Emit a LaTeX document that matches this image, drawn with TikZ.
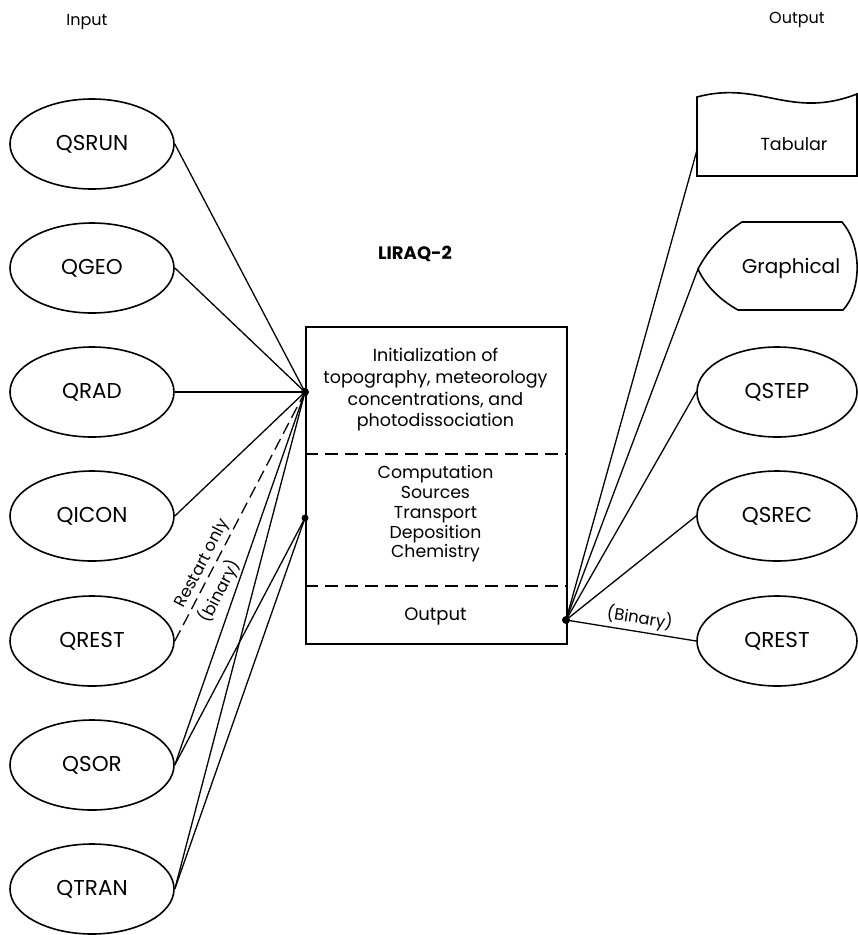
\documentclass[tikz,border=0pt]{standalone}
\usepackage{fontspec}
\setmainfont{Poppins}
\usetikzlibrary{shapes.geometric}
\begin{document}
\begin{tikzpicture}[x=1pt,y=-1pt,line width=1.6pt,
  ell/.style={draw,ellipse,minimum width=164pt,minimum height=90pt,inner sep=0pt,font=\fontsize{21.5}{24}\selectfont},
  rell/.style={ell,minimum width=160pt},
  conn/.style={line width=1.3pt},
  dsh/.style={dash pattern=on 13pt off 7pt},
  lbl/.style={font=\fontsize{16}{19}\selectfont},
  boxtxt/.style={align=center,inner sep=0pt}
]
\useasboundingbox (0,0) rectangle (858,935);

% headers
\node[lbl] (inp) at (87,22) {Input};
\node[lbl] (outp) at (797,20) {Output};
\node[font=\fontsize{18}{21}\selectfont\bfseries] (title) at (415,254) {LIRAQ-2};

% input ellipses
\node[ell] (qsrun) at (92,144) {QSRUN};
\node[ell] (qgeo)  at (92,268) {QGEO};
\node[ell] (qrad)  at (92,392) {QRAD};
\node[ell] (qicon) at (92,516) {QICON};
\node[ell] (qrestl) at (92,641) {QREST};
\node[ell] (qsor)  at (92,765) {QSOR};
\node[ell] (qtran) at (92,889) {QTRAN};

% central box
\node[draw,minimum width=261pt,minimum height=317pt,inner sep=0pt,anchor=north west] (box) at (305,326) {};
\draw[dsh] (box.west |- 0,454) -- (box.east |- 0,454);
\draw[dsh] (box.west |- 0,586) -- (box.east |- 0,586);
\node[boxtxt,font=\fontsize{17.5}{21.7}\selectfont] (init) at (435.5,390) {Initialization of\\topography, meteorology\\concentrations, and\\photodissociation};
\node[boxtxt,font=\fontsize{17.3}{19.8}\selectfont] (comp) at (435.5,514) {Computation\\Sources\\Transport\\Deposition\\Chemistry};
\node[boxtxt,font=\fontsize{18}{20}\selectfont] (outb) at (435.5,616) {Output};

% output shapes
\draw (697,176) -- (697,97) .. controls (760,80) and (790,120) .. (857,94) -- (857,176) -- cycle;
\node[font=\fontsize{17.5}{20}\selectfont] (tab) at (794,144) {Tabular};
\coordinate (tabL) at (697,150);
\draw (742,222) -- (842,222) .. controls (862,245) and (862,290) .. (843,310) -- (738,310)
  .. controls (720,300) and (705,285) .. (698,269) .. controls (708,250) and (722,235) .. (742,222) -- cycle;
\node[font=\fontsize{20}{22}\selectfont] (graph) at (791,268) {Graphical};
\coordinate (grL) at (698,269);
\node[rell] (qstep) at (777,392) {QSTEP};
\node[rell] (qsrec) at (777,516) {QSREC};
\node[rell] (qrestr) at (777,641) {QREST};

% junction dots
\coordinate (d1) at (305,392);
\coordinate (d2) at (305,518);
\coordinate (d3) at (566,620);
\fill (d1) circle (4pt);
\fill (d2) circle (3.5pt);
\fill (d3) circle (4pt);

% input connectors
\draw[conn] (qsrun.east) -- (d1);
\draw[conn] (qgeo.east) -- (d1);
\draw[conn] (qrad.east) -- (d1);
\draw[conn] (qicon.east) -- (d1);
\draw[conn,dash pattern=on 12pt off 6pt] (qrestl.east) -- (d1)
  node[pos=0.29,sloped,above,font=\fontsize{16.5}{18}\selectfont,inner sep=2pt] {Restart only}
  node[pos=0.23,sloped,below,font=\fontsize{16.5}{18}\selectfont,inner sep=6pt] {(binary)};
\draw[conn] (qsor.east) -- (d1);
\draw[conn] (qsor.east) -- (d2);
\draw[conn] (qtran.east) -- (d1);
\draw[conn] (qtran.east) -- (d2);

% output connectors
\draw[conn] (d3) -- (tabL);
\draw[conn] (d3) -- (grL);
\draw[conn] (d3) -- (qstep.west);
\draw[conn] (d3) -- (qsrec.west);
\draw[conn] (d3) -- (qrestr.west)
  node[pos=0.55,sloped,above,font=\fontsize{16.5}{18}\selectfont,inner sep=3pt] {(Binary)};
\end{tikzpicture}
\end{document}
